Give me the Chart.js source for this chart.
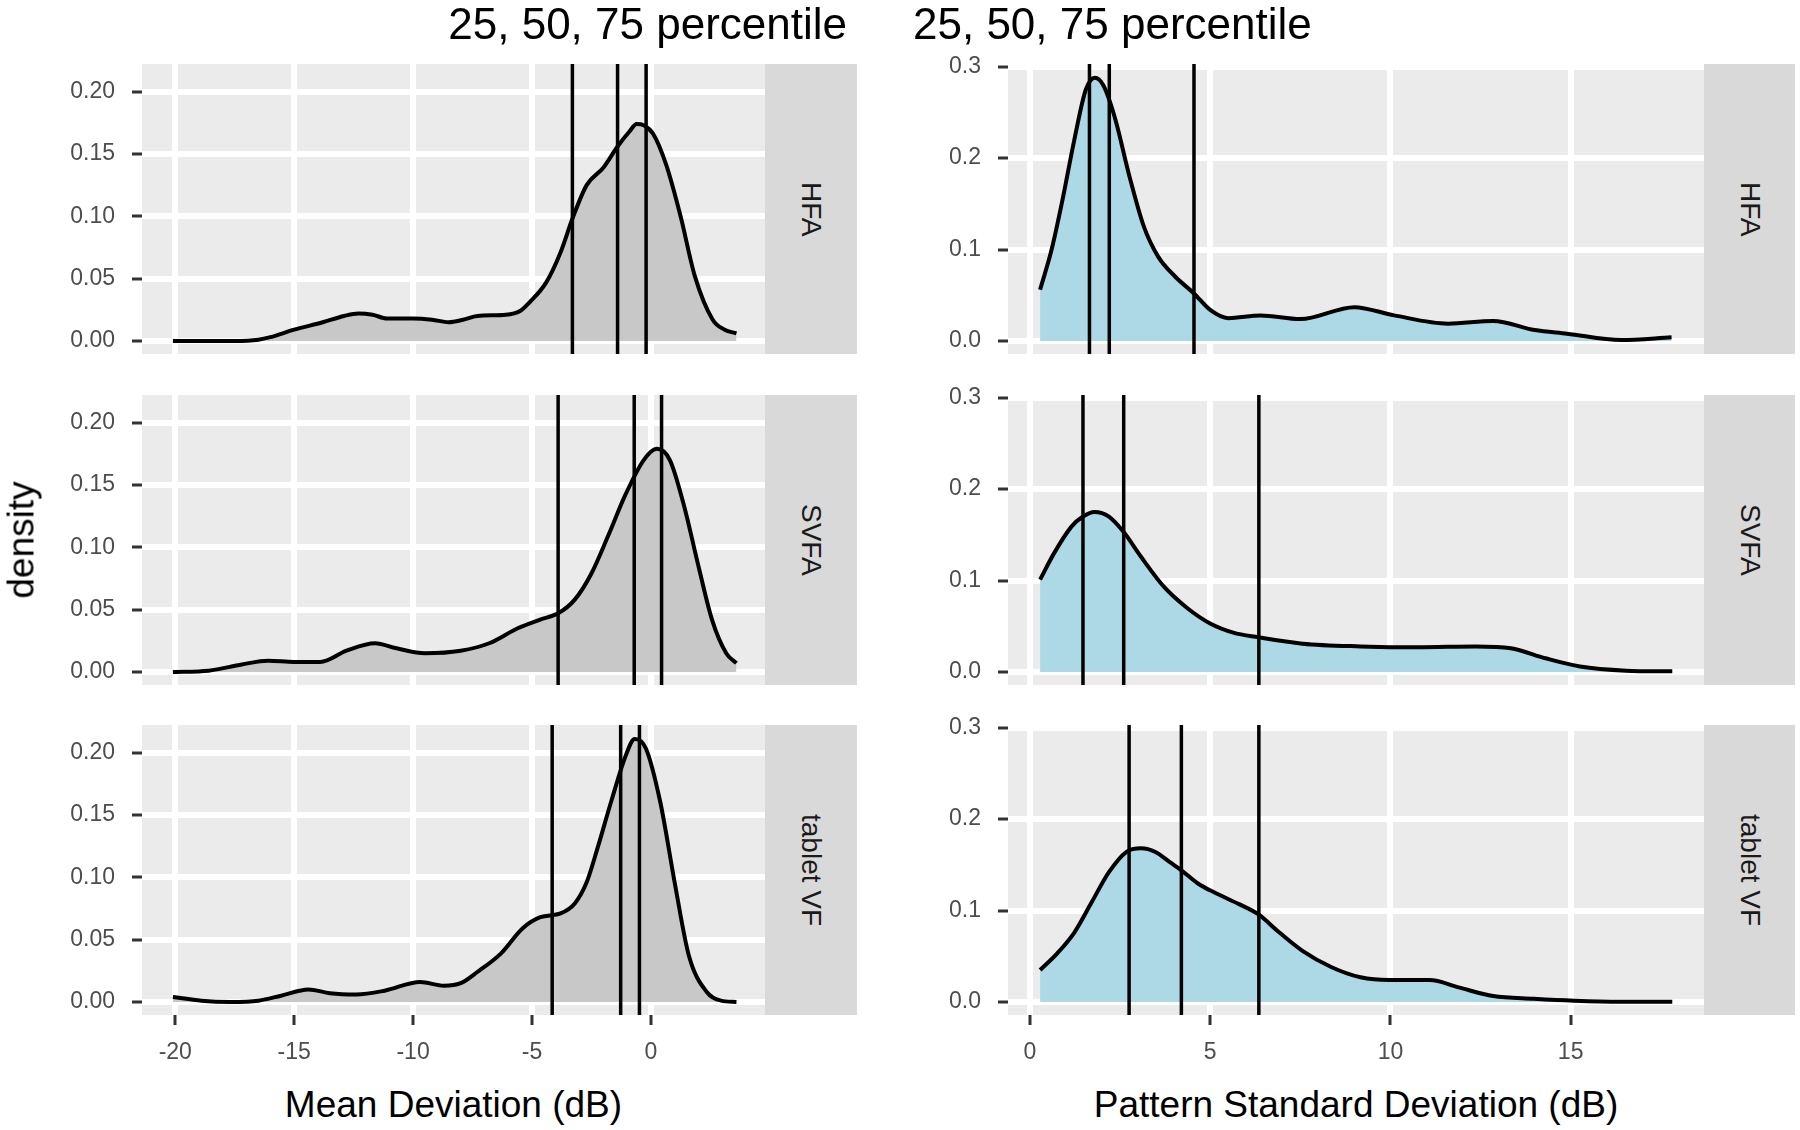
<!DOCTYPE html>
<html>
<head>
<meta charset="utf-8">
<script src="https://cdn.jsdelivr.net/npm/chart.js@4.4.1/dist/chart.umd.min.js"></script>
<style>
  html, body { margin: 0; padding: 0; background: #fff; }
  #page { position: relative; width: 1800px; height: 1130px; overflow: hidden;
          font-family: "Liberation Sans", Arial, sans-serif; }
  canvas { position: absolute; }
  .title { position: absolute; top: 2px; font-size: 44px; line-height: 1; color: #000; white-space: nowrap; }
  .strip { position: absolute; background: #D9D9D9; display: flex; align-items: center; justify-content: center; }
  .strip span { writing-mode: vertical-rl; font-size: 28px; color: #1A1A1A; white-space: nowrap; }
  .axis-title { position: absolute; font-size: 37px; line-height: 1; color: #000; text-align: center; white-space: nowrap; }
</style>
</head>
<body>
<div id="page"></div>
<script>
// ─── Data ────────────────────────────────────────────────────────────────────

const devices = ['HFA', 'SVFA', 'tablet VF'];
const titleText = '25, 50, 75 percentile';

const mdTicks      = [-20, -15, -10, -5, 0];
const psdTicks     = [0, 5, 10, 15];
const mdDensTicks  = [0, 0.05, 0.10, 0.15, 0.20];
const psdDensTicks = [0, 0.1, 0.2, 0.3];

// Mean Deviation densities
const mdHfaX = [-20.1, -18.5, -17.5, -16.5, -16.0, -15.0, -13.8, -12.9, -12.3, -11.7, -11.1, -10.0, -9.2, -8.5, -7.9, -7.3, -6.1, -5.5, -5.1, -4.4, -3.8, -3.3, -2.7, -2.0, -1.4, -0.9, -0.6, -0.3, 0.1, 0.65, 1.25, 1.85, 2.6, 3.1, 3.6];
const mdHfaY = [0.000, 0.000, 0.000, 0.001, 0.003, 0.009, 0.015, 0.020, 0.022, 0.021, 0.018, 0.018, 0.017, 0.015, 0.017, 0.020, 0.021, 0.024, 0.031, 0.047, 0.071, 0.098, 0.125, 0.139, 0.156, 0.168, 0.174, 0.173, 0.166, 0.141, 0.100, 0.052, 0.017, 0.009, 0.006];

const mdSvfaX = [-20.1, -18.6, -17.2, -16.1, -15.0, -13.9, -12.8, -11.6, -10.7, -9.5, -8.0, -6.8, -5.6, -4.65, -3.9, -3.2, -2.5, -1.8, -1.05, -0.3, 0.25, 0.8, 1.4, 2.0, 2.57, 3.17, 3.6];
const mdSvfaY = [0.000, 0.001, 0.006, 0.009, 0.008, 0.008, 0.017, 0.023, 0.019, 0.015, 0.017, 0.023, 0.035, 0.042, 0.047, 0.058, 0.079, 0.109, 0.143, 0.170, 0.179, 0.170, 0.133, 0.085, 0.042, 0.015, 0.007];

const mdTabX = [-20.1, -18.9, -17.7, -16.5, -15.55, -14.4, -13.5, -12.4, -11.2, -9.7, -8.7, -8.0, -7.3, -6.3, -5.4, -4.65, -3.8, -3.2, -2.7, -2.25, -1.65, -1.05, -0.68, -0.2, 0.4, 1.0, 1.6, 2.35, 2.95, 3.6];
const mdTabY = [0.004, 0.001, 0.000, 0.001, 0.005, 0.010, 0.007, 0.006, 0.009, 0.016, 0.013, 0.015, 0.024, 0.039, 0.059, 0.068, 0.071, 0.079, 0.096, 0.123, 0.162, 0.198, 0.211, 0.203, 0.160, 0.096, 0.037, 0.008, 0.001, 0.000];

// Pattern Standard Deviation densities
const psdHfaX = [0.28, 0.6, 0.9, 1.23, 1.55, 1.8, 2.03, 2.35, 2.76, 3.16, 3.56, 4.04, 4.55, 5.0, 5.5, 6.4, 7.5, 9.0, 10.1, 11.6, 12.85, 14.0, 14.9, 16.4, 17.8];
const psdHfaY = [0.056, 0.100, 0.154, 0.220, 0.275, 0.288, 0.280, 0.245, 0.180, 0.125, 0.092, 0.070, 0.052, 0.034, 0.025, 0.028, 0.024, 0.037, 0.028, 0.019, 0.022, 0.012, 0.008, 0.001, 0.004];

const psdSvfaX = [0.28, 0.67, 1.15, 1.47, 1.79, 2.19, 2.6, 3.08, 3.72, 4.36, 5.0, 5.64, 6.33, 7.56, 9.17, 10.77, 12.37, 13.34, 14.3, 15.26, 16.54, 17.82];
const psdSvfaY = [0.101, 0.130, 0.159, 0.170, 0.175, 0.170, 0.153, 0.126, 0.093, 0.070, 0.053, 0.043, 0.038, 0.031, 0.028, 0.027, 0.028, 0.026, 0.015, 0.006, 0.0015, 0.0007];

const psdTabX = [0.28, 0.75, 1.23, 1.71, 2.19, 2.67, 3.08, 3.48, 3.88, 4.2, 4.68, 5.16, 5.8, 6.33, 6.92, 7.56, 8.37, 9.17, 9.97, 11.09, 11.89, 12.85, 13.98, 15.1, 16.38, 17.82];
const psdTabY = [0.035, 0.053, 0.076, 0.109, 0.142, 0.164, 0.168, 0.164, 0.153, 0.144, 0.129, 0.119, 0.107, 0.096, 0.076, 0.056, 0.038, 0.027, 0.024, 0.024, 0.016, 0.0065, 0.0036, 0.0015, 0.0004, 0.0004];

// 25th, 50th, 75th percentiles
const mdHfaPct   = [-3.3, -1.4, -0.2];
const mdSvfaPct  = [-3.9, -0.7, 0.45];
const mdTabPct   = [-4.15, -1.27, -0.48];
const psdHfaPct  = [1.65, 2.2, 4.55];
const psdSvfaPct = [1.47, 2.6, 6.35];
const psdTabPct  = [2.75, 4.2, 6.35];

// ─── Layout ──────────────────────────────────────────────────────────────────

const ROW_TOP = [64, 395, 725];
const PANEL_H = 290;
const PAD     = 40;       // canvas margin above / below a panel, room for tick labels
const X_AXIS_H = 60;
const MD_X  = [-21.4, 4.8],   MD_Y  = [-0.0105, 0.2222];
const PSD_X = [-0.61, 18.7],  PSD_Y = [-0.0142, 0.3029];

Chart.defaults.font.family = '"Liberation Sans", Arial, sans-serif';

const page = document.getElementById('page');

const panelBg = {
    id: 'panelBg',
    beforeDraw(chart) {
        const a = chart.chartArea, ctx = chart.ctx;
        ctx.save();
        ctx.fillStyle = '#EBEBEB';
        ctx.fillRect(a.left, a.top, a.right - a.left, a.bottom - a.top);
        ctx.restore();
    },
};

function makePanel(p) {
    const canvas = document.createElement('canvas');
    canvas.width  = p.width;
    canvas.height = p.height;
    canvas.style.left = p.left + 'px';
    canvas.style.top  = p.top + 'px';
    page.appendChild(canvas);

    const datasets = [{
        data: p.xs.map((x, i) => ({ x, y: p.ys[i] })),
        borderColor: '#000', borderWidth: 4, backgroundColor: p.fill, fill: 'origin',
        pointRadius: 0, cubicInterpolationMode: 'monotone', order: 1,
    }];
    p.pcts.forEach(v => datasets.push({
        data: [{ x: v, y: p.yRange[0] }, { x: v, y: p.yRange[1] }],
        borderColor: '#000', borderWidth: 3.5, pointRadius: 0, fill: false, order: 0,
    }));

    new Chart(canvas, {
        type: 'line',
        data: { datasets },
        options: {
            responsive: false,
            animation: false,
            devicePixelRatio: 1,
            layout: { padding: { top: PAD, bottom: p.showX ? 0 : PAD, left: 0, right: 0 } },
            plugins: { legend: { display: false }, tooltip: { enabled: false } },
            scales: {
                x: {
                    type: 'linear', min: p.xRange[0], max: p.xRange[1],
                    afterBuildTicks: s => { s.ticks = p.xTicks.map(value => ({ value })); },
                    afterFit: s => { s.height = p.showX ? X_AXIS_H : 0; },
                    grid:   { color: '#fff', lineWidth: 6, drawTicks: p.showX, tickLength: 10, tickColor: '#333', tickWidth: 3 },
                    border: { display: false },
                    ticks:  { display: p.showX, padding: 14, color: '#4D4D4D', font: { size: 23 },
                              maxRotation: 0, autoSkip: false, callback: v => String(v) },
                },
                y: {
                    type: 'linear', min: p.yRange[0], max: p.yRange[1],
                    afterBuildTicks: s => { s.ticks = p.yTicks.map(value => ({ value })); },
                    afterFit: s => { s.width = p.yWidth; },
                    grid:   { color: '#fff', lineWidth: 6, tickLength: 10, tickColor: '#333', tickWidth: 3 },
                    border: { display: false },
                    ticks:  { padding: 17, color: '#4D4D4D', font: { size: 23 },
                              callback: v => v.toFixed(p.yDigits) },
                },
            },
        },
        plugins: [panelBg],
    });
}

function addDiv(cls, style, text) {
    const d = document.createElement('div');
    d.className = cls;
    Object.assign(d.style, style);
    if (cls === 'strip') {
        const s = document.createElement('span');
        s.textContent = text;
        d.appendChild(s);
    } else {
        d.textContent = text;
    }
    page.appendChild(d);
    return d;
}

const mdSeries  = [[mdHfaX, mdHfaY, mdHfaPct], [mdSvfaX, mdSvfaY, mdSvfaPct], [mdTabX, mdTabY, mdTabPct]];
const psdSeries = [[psdHfaX, psdHfaY, psdHfaPct], [psdSvfaX, psdSvfaY, psdSvfaPct], [psdTabX, psdTabY, psdTabPct]];

devices.forEach((dev, r) => {
    const showX = r === devices.length - 1;
    const top = ROW_TOP[r] - PAD;
    const height = showX ? PAD + PANEL_H + X_AXIS_H : PANEL_H + 2 * PAD;

    makePanel({
        left: 0, top, width: 765, height, yWidth: 142, showX,
        xRange: MD_X, yRange: MD_Y, xTicks: mdTicks, yTicks: mdDensTicks, yDigits: 2,
        xs: mdSeries[r][0], ys: mdSeries[r][1], pcts: mdSeries[r][2], fill: '#C8C8C8',
    });
    makePanel({
        left: 900, top, width: 804, height, yWidth: 108, showX,
        xRange: PSD_X, yRange: PSD_Y, xTicks: psdTicks, yTicks: psdDensTicks, yDigits: 1,
        xs: psdSeries[r][0], ys: psdSeries[r][1], pcts: psdSeries[r][2], fill: '#ADD8E6',
    });

    addDiv('strip', { left: '765px', top: ROW_TOP[r] + 'px', width: '92px', height: PANEL_H + 'px' }, dev);
    addDiv('strip', { left: '1704px', top: ROW_TOP[r] + 'px', width: '91px', height: PANEL_H + 'px' }, dev);
});

// titles and axis labels
addDiv('title', { left: '0px', width: '847px', textAlign: 'right' }, titleText);
addDiv('title', { left: '913px' }, titleText);
addDiv('axis-title', { left: '142px', width: '623px', top: '1086px' }, 'Mean Deviation (dB)');
addDiv('axis-title', { left: '1008px', width: '696px', top: '1086px' }, 'Pattern Standard Deviation (dB)');
addDiv('axis-title', { left: '21px', top: '540px', transform: 'translate(-50%, -50%) rotate(-90deg)' }, 'density');
</script>
</body>
</html>
